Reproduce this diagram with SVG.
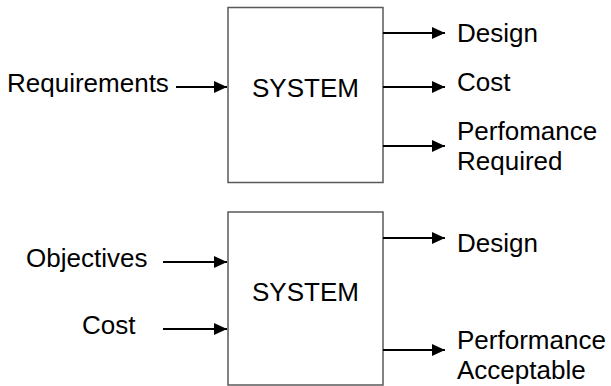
<svg xmlns="http://www.w3.org/2000/svg" width="611" height="386" viewBox="0 0 611 386">
<style>
text{font-family:"Liberation Sans",Arial,sans-serif;font-size:26px;fill:#000}
.box{fill:#fff;stroke:#595959;stroke-width:1.5}
.c{stroke:#000;stroke-width:2;fill:none;marker-end:url(#ah)}
</style>
<defs>
<marker id="ah" markerWidth="13" markerHeight="12" refX="13" refY="6" orient="auto" markerUnits="userSpaceOnUse">
<path d="M0,0 L13,6 L0,12 Z" fill="#000"/>
</marker>
</defs>
<rect width="611" height="386" fill="#fff"/>
<g id="system1">
<rect class="box" x="228" y="7.5" width="155" height="175"/>
<text x="252" y="97">SYSTEM</text>
</g>
<g id="system2">
<rect class="box" x="228" y="212" width="155" height="173"/>
<text x="252" y="301">SYSTEM</text>
</g>
<g id="labels">
<text x="7" y="92">Requirements</text>
<text x="457" y="42">Design</text>
<text x="457" y="91">Cost</text>
<text x="457" y="140">Perfomance</text>
<text x="457" y="170">Required</text>
<text x="26" y="267">Objectives</text>
<text x="82" y="334">Cost</text>
<text x="457" y="252">Design</text>
<text x="457" y="349">Performance</text>
<text x="457" y="379">Acceptable</text>
</g>
<g id="connectors">
<line class="c" x1="176" y1="87" x2="227" y2="87"/>
<line class="c" x1="383" y1="33" x2="445" y2="33"/>
<line class="c" x1="383" y1="87" x2="445" y2="87"/>
<line class="c" x1="383" y1="146" x2="445" y2="146"/>
<line class="c" x1="163" y1="262" x2="227" y2="262"/>
<line class="c" x1="163" y1="329" x2="227" y2="329"/>
<line class="c" x1="383" y1="238" x2="445" y2="238"/>
<line class="c" x1="383" y1="350" x2="445" y2="350"/>
</g>
</svg>
